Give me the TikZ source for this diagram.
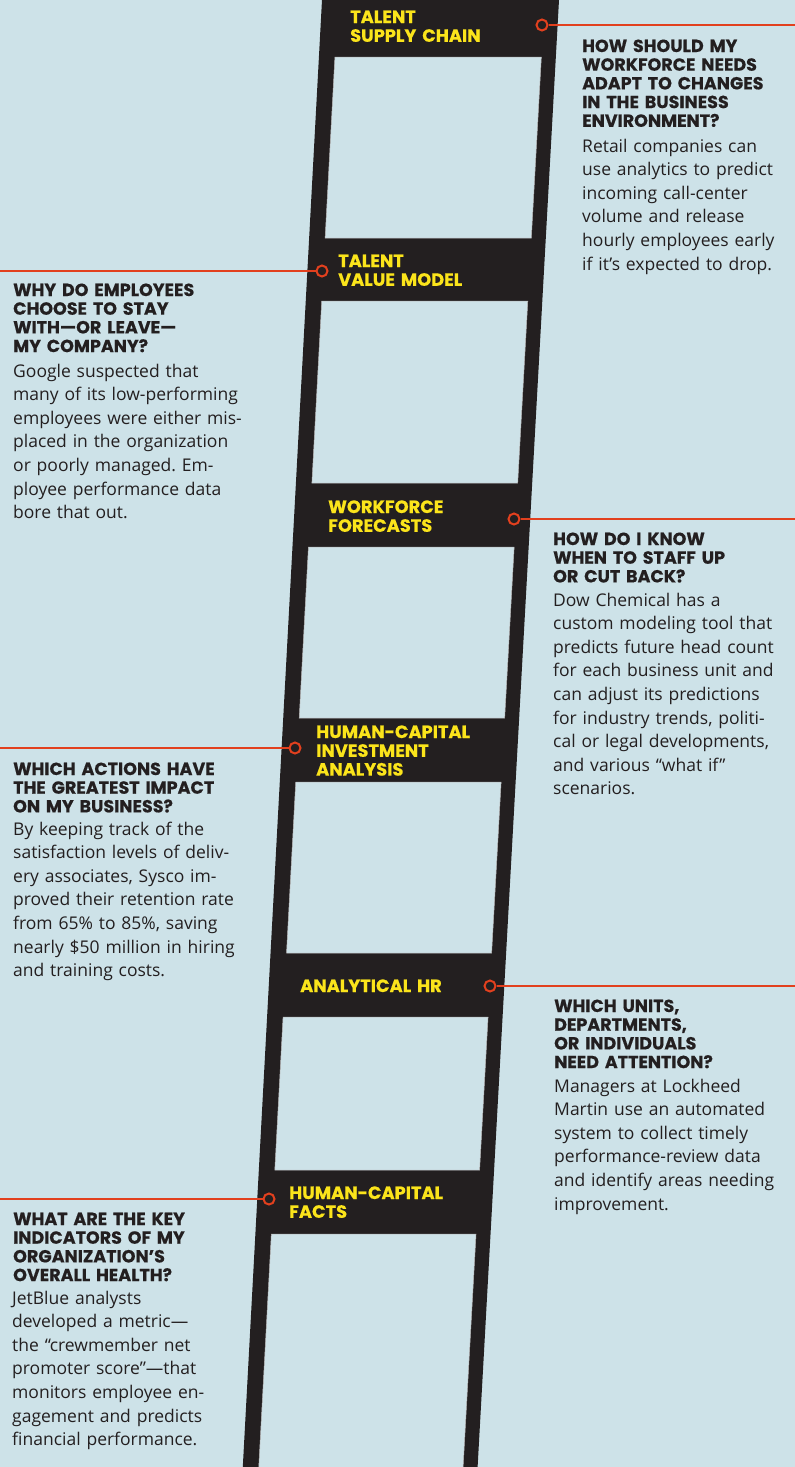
\documentclass[tikz,border=0pt]{standalone}
\usepackage{fontspec}
\setmainfont{Open Sans}
\newfontfamily\headfont{Poppins}[BoldFeatures={FakeBold=0.5}]
\frenchspacing
\definecolor{bg}{HTML}{CDE2E8}
\definecolor{ladder}{HTML}{231F20}
\definecolor{lab}{HTML}{FBE41B}
\definecolor{conn}{HTML}{E2401E}
\definecolor{ink}{HTML}{231F20}
\tikzset{
  rungtext/.style={anchor=base west, inner sep=0pt, text=lab, align=left, text width=200pt,
    font=\headfont\bfseries\fontsize{17.8}{18.8}\selectfont},
  headtext/.style={anchor=base west, inner sep=0pt, text=ink, align=left, text width=260pt,
    font=\headfont\bfseries\fontsize{17.5}{18.7}\selectfont},
  bodytext/.style={anchor=base west, inner sep=0pt, text=ink, align=left, text width=270pt,
    font=\frenchspacing\fontsize{17.5}{23.6}\selectfont},
  pin/.style={circle, draw=conn, line width=2pt, fill=ladder, minimum size=11pt, inner sep=0pt},
  connector/.style={draw=conn, line width=2pt},
  opening/.style={fill=bg, draw=gray!55, line width=0.5pt}
}
\newcommand\rungopening[2]{%
  \draw[opening] ({338-0.054*#1},#1) -- ({544.5-0.0555*#1},#1) -- ({544.5-0.0555*#2},#2)
    -- ({338-0.054*#2},#2) -- cycle;}
\begin{document}
\begin{tikzpicture}[x=1pt,y=-1pt]
\useasboundingbox (0,0) rectangle (795,1467);
\fill[bg] (0,0) rectangle (795,1467);
% ladder
\fill[ladder] (322,0) -- (559,0) -- (477.6,1467) -- (242.8,1467) -- cycle;
\rungopening{57}{238}
\rungopening{301}{483}
\rungopening{547}{718}
\rungopening{782}{953}
\rungopening{1017}{1170}
\fill[bg] ({338-0.054*1234},1234) -- ({544.5-0.0555*1234},1234) -- ({544.5-0.0555*1467},1467)
    -- ({338-0.054*1467},1467) -- cycle;
\draw[gray!55, line width=0.5pt] ({338-0.054*1467},1467) -- ({338-0.054*1234},1234)
    -- ({544.5-0.0555*1234},1234) -- ({544.5-0.0555*1467},1467);
% rung labels
\node[rungtext] (l1) at (350,23) {TALENT\\SUPPLY CHAIN};
\node[rungtext] (l2) at (338,267) {TALENT\\VALUE MODEL};
\node[rungtext] (l3) at (328,513) {WORKFORCE\\FORECASTS};
\node[rungtext] (l4) at (316,738) {HUMAN-CAPITAL\\INVESTMENT\\ANALYSIS};
\node[rungtext] (l5) at (300,992) {ANALYTICAL HR};
\node[rungtext] (l6) at (289,1199) {HUMAN-CAPITAL\\FACTS};
% pins and connectors
\node[pin] (p1) at (542,25) {};
\node[pin] (p2) at (322,271) {};
\node[pin] (p3) at (514,519) {};
\node[pin] (p4) at (295,748) {};
\node[pin] (p5) at (490,986) {};
\node[pin] (p6) at (269,1199) {};
\coordinate (e1) at (795,25);
\coordinate (e2) at (0,271);
\coordinate (e3) at (795,519);
\coordinate (e4) at (0,748);
\coordinate (e5) at (795,986);
\coordinate (e6) at (0,1199);
\draw[connector] (p1) -- (e1);
\draw[connector] (p2) -- (e2);
\draw[connector] (p3) -- (e3);
\draw[connector] (p4) -- (e4);
\draw[connector] (p5) -- (e5);
\draw[connector] (p6) -- (e6);
% right block 1
\node[headtext] (h1) at (582,52) {HOW SHOULD MY\\WORKFORCE NEEDS\\ADAPT TO CHANGES\\IN THE BUSINESS\\ENVIRONMENT?};
\node[bodytext] (b1) at (582,152) {Retail companies can\\use analytics to predict\\incoming call-center\\volume and release\\hourly employees early\\if it’s expected to drop.};
% left block 1
\node[headtext] (h2) at (13,296) {WHY DO EMPLOYEES\\CHOOSE TO STAY\\WITH—OR LEAVE—\\MY COMPANY?};
\node[bodytext] (b2) at (13,377) {Google suspected that\\many of its low-performing\\employees were either mis-\\placed in the organization\\or poorly managed. Em-\\ployee performance data\\bore that out.};
% right block 2
\node[headtext] (h3) at (553,545) {HOW DO I KNOW\\WHEN TO STAFF UP\\OR CUT BACK?};
\node[bodytext] (b3) at (553,606) {Dow Chemical has a\\custom modeling tool that\\predicts future head count\\for each business unit and\\can adjust its predictions\\for industry trends, politi-\\cal or legal developments,\\and various “what if”\\scenarios.};
% left block 2
\node[headtext] (h4) at (13,775) {WHICH ACTIONS HAVE\\THE GREATEST IMPACT\\ON MY BUSINESS?};
\node[bodytext] (b4) at (13,835) {By keeping track of the\\satisfaction levels of deliv-\\ery associates, Sysco im-\\proved their retention rate\\from 65\% to 85\%, saving\\nearly \$50 million in hiring\\and training costs.};
% right block 3
\node[headtext] (h5) at (554,1012) {WHICH UNITS,\\DEPARTMENTS,\\OR INDIVIDUALS\\NEED ATTENTION?};
\node[bodytext] (b5) at (554,1092) {Managers at Lockheed\\Martin use an automated\\system to collect timely\\performance-review data\\and identify areas needing\\improvement.};
% left block 3
\node[headtext] (h6) at (13,1225) {WHAT ARE THE KEY\\INDICATORS OF MY\\ORGANIZATION’S\\OVERALL HEALTH?};
\node[bodytext] (b6) at (12,1304) {JetBlue analysts\\developed a metric—\\the “crewmember net\\promoter score”—that\\monitors employee en-\\gagement and predicts\\financial performance.};
\end{tikzpicture}
\end{document}
